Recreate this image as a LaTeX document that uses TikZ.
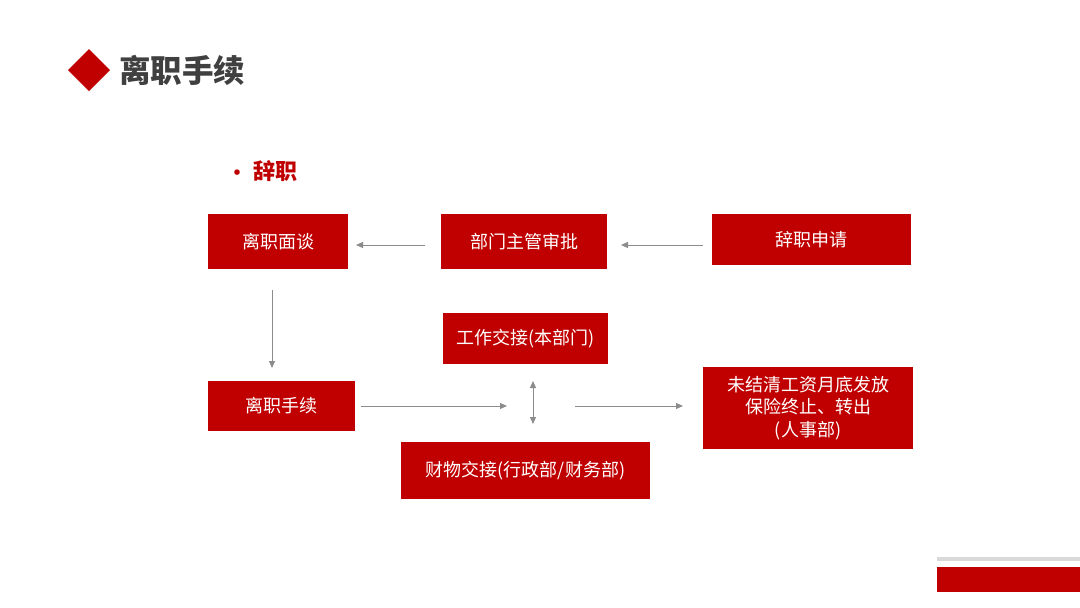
\documentclass[tikz,border=0pt]{standalone}
\usepackage{fontspec}
\setmainfont{Noto Sans CJK SC}
\newfontfamily\cjk{Noto Sans CJK SC}
\usetikzlibrary{arrows.meta}
\definecolor{mainred}{HTML}{C00000}
\definecolor{titlegray}{HTML}{404040}
\definecolor{arrowgray}{HTML}{8C8C8C}
\definecolor{linegray}{HTML}{D9D9D9}
\tikzset{
  box/.style={fill=mainred, draw=none, text=white, inner sep=0pt, align=center,
    font=\cjk\fontsize{18}{22.5}\selectfont},
  conn/.style={draw=arrowgray, line width=1pt, -{Triangle[length=7pt,width=6pt]}},
  dconn/.style={draw=arrowgray, line width=1pt, {Triangle[length=7pt,width=6pt]}-{Triangle[length=7pt,width=6pt]}}
}
\begin{document}
\begin{tikzpicture}[x=1pt,y=-1pt]
\useasboundingbox (0,0) rectangle (1080,608);
\fill[white] (0,0) rectangle (1080,608);
% title
\fill[mainred] (68,70) -- (89,49) -- (110,70) -- (89,91) -- cycle;
\node[anchor=west, inner sep=0pt, text=titlegray, font=\cjk\bfseries\fontsize{31.5}{34}\selectfont] (title) at (119,70) {离职手续};
% subtitle
\node[anchor=center, inner sep=0pt, text=mainred, font=\cjk\fontsize{26}{28}\selectfont] (bullet) at (237,176) {•};
\node[anchor=west, inner sep=0pt, text=mainred, font=\cjk\bfseries\fontsize{22}{24}\selectfont] (sub) at (253.5,171) {辞职};
% boxes
\node[box, minimum width=140pt, minimum height=55pt] (interview) at (278,241.5) {离职面谈};
\node[box, minimum width=166pt, minimum height=55pt] (approve) at (524,241.5) {部门主管审批};
\node[box, minimum width=199pt, minimum height=51pt] (apply) at (811.5,239.5) {辞职申请};
\node[box, minimum width=165pt, minimum height=51pt] (work) at (525.5,338.5) {工作交接(本部门)};
\node[box, minimum width=147pt, minimum height=50pt] (proc) at (281.5,406) {离职手续};
\node[box, minimum width=249pt, minimum height=57pt] (asset) at (525.5,470.5) {财物交接(行政部/财务部)};
\node[box, minimum width=210pt, minimum height=82pt] (salary) at (808,408) {未结清工资月底发放\\保险终止、转出\\(人事部)};
% connector endpoints
\coordinate (a1s) at (703,245);
\coordinate (a1e) at (621,245);
\coordinate (a2s) at (425,245);
\coordinate (a2e) at (356,245);
\coordinate (a3s) at (272,290);
\coordinate (a3e) at (272,368);
\coordinate (a4s) at (361,406);
\coordinate (a4e) at (507,406);
\coordinate (a5s) at (533,381);
\coordinate (a5e) at (533,424);
\coordinate (a6s) at (575,406);
\coordinate (a6e) at (683,406);
\draw[conn] (a1s) -- (a1e);
\draw[conn] (a2s) -- (a2e);
\draw[conn] (a3s) -- (a3e);
\draw[conn] (a4s) -- (a4e);
\draw[dconn] (a5s) -- (a5e);
\draw[conn] (a6s) -- (a6e);
% bottom right decoration
\fill[linegray] (937,557) rectangle (1080,561);
\fill[mainred] (937,567) rectangle (1080,592);
\end{tikzpicture}
\end{document}
